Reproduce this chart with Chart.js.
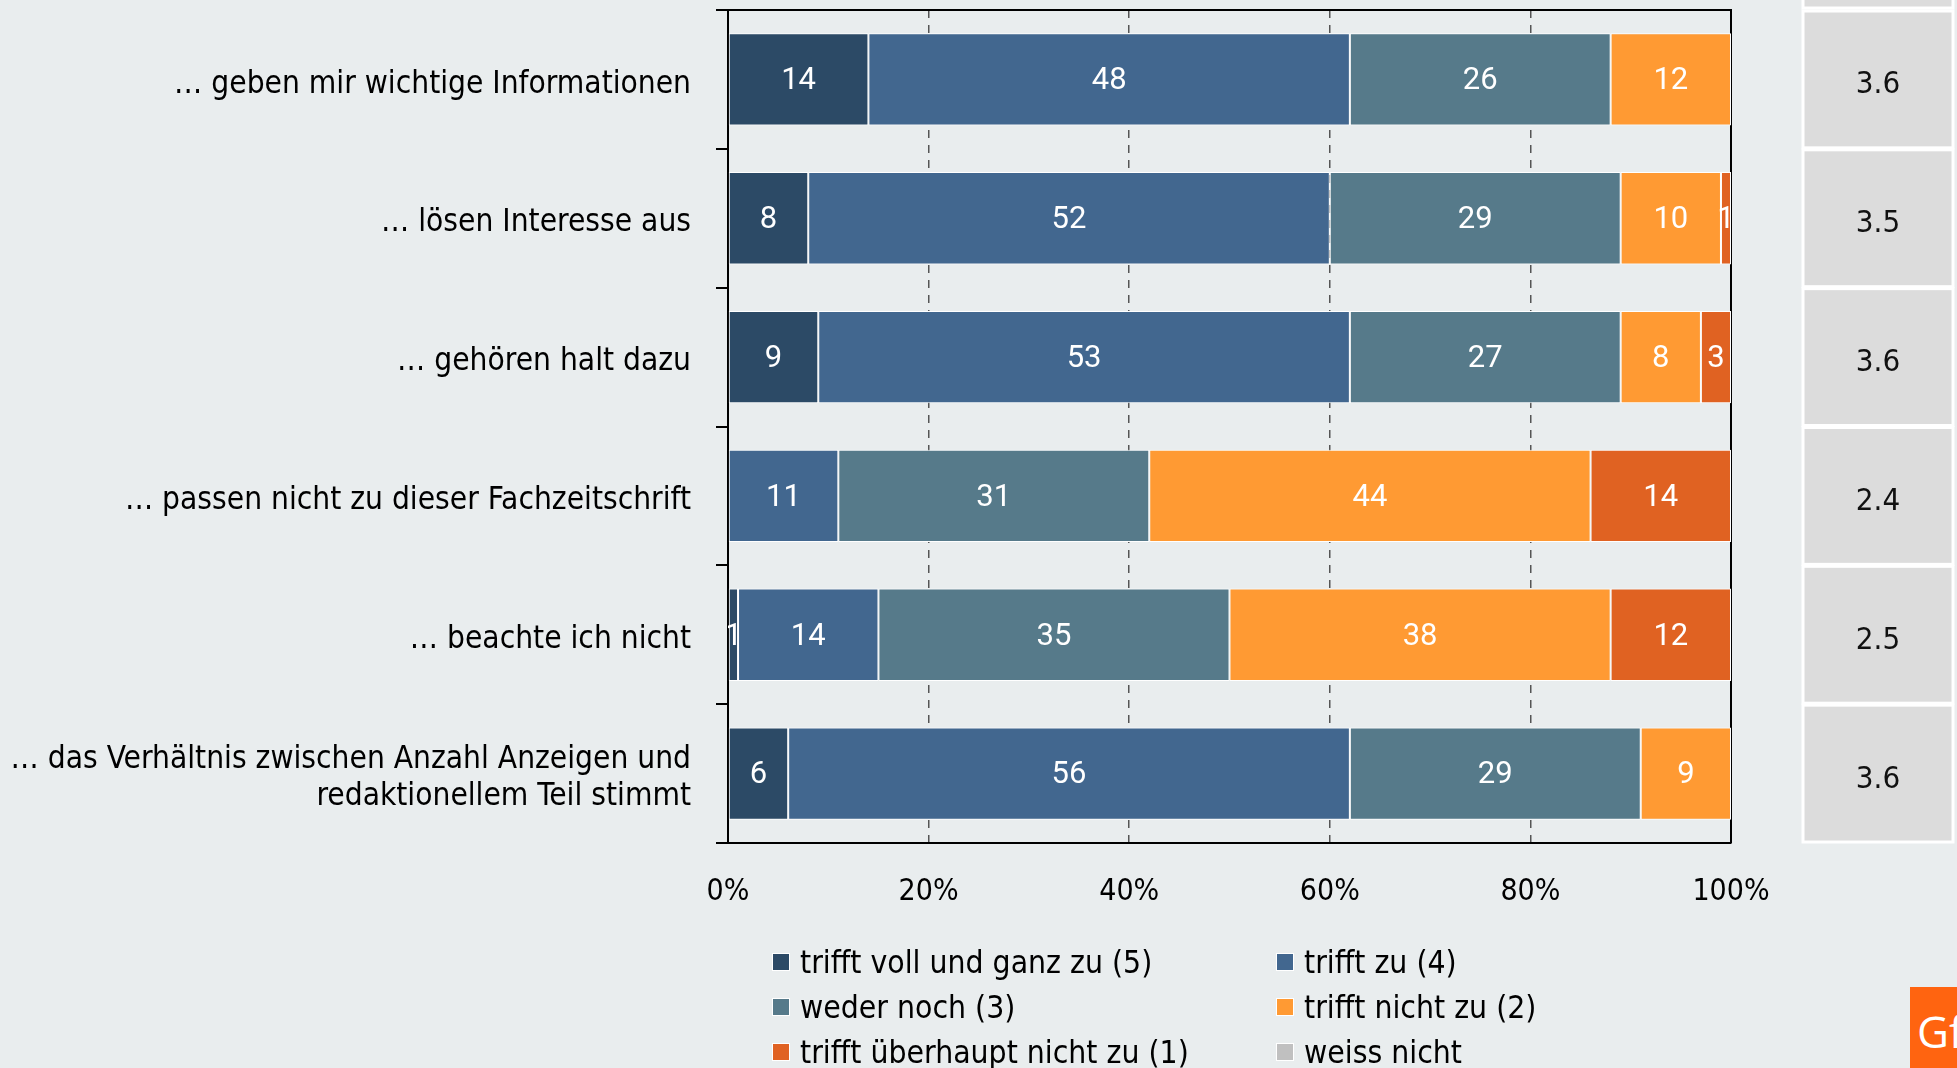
<!DOCTYPE html>
<html lang="de">
<head>
<meta charset="utf-8">
<title>Anzeigen in der Fachzeitschrift</title>
<script src="https://cdn.jsdelivr.net/npm/chart.js@4.4.1/dist/chart.umd.min.js"></script>
<style>
  html, body { margin: 0; padding: 0; background: #e9edee; }
  #wrap { position: relative; width: 1957px; height: 1068px; overflow: hidden; }
  #chart { position: absolute; left: 0; top: 0; }
  #legend {
    position: absolute; left: 772px; top: 939px;
    display: grid; grid-template-columns: 504px 320px; grid-auto-rows: 45px;
    font-family: "DejaVu Sans Condensed", "Liberation Sans", sans-serif; font-size: 31.6px; color: #000;
  }
  .item { display: flex; align-items: center; white-space: nowrap; }
  .box { width: 16px; height: 16px; border: 1px solid #fff; margin-right: 10px; }
  #logo {
    position: absolute; left: 1910px; top: 987px; width: 47px; height: 81px;
    background: #ff6410; color: #fff; overflow: hidden; white-space: nowrap;
    font-family: "Open Sans", sans-serif; font-size: 44px; line-height: 88px; padding-left: 7px;
    box-sizing: border-box;
  }
</style>
</head>
<body>
<div id="wrap">
  <canvas id="chart" width="1957" height="1068"></canvas>
  <div id="legend"></div>
  <div id="logo">GfK</div>
</div>
<script>
const categories = [
  "… geben mir wichtige Informationen",
  "… lösen Interesse aus",
  "… gehören halt dazu",
  "… passen nicht zu dieser Fachzeitschrift",
  "… beachte ich nicht",
  ["… das Verhältnis zwischen Anzahl Anzeigen und", "redaktionellem Teil stimmt"]
];
const seriesNames = [
  "trifft voll und ganz zu (5)",
  "trifft zu (4)",
  "weder noch (3)",
  "trifft nicht zu (2)",
  "trifft überhaupt nicht zu (1)",
  "weiss nicht"
];
const seriesColors = ["#2c4a66", "#42678f", "#567a8a", "#ff9a33", "#e06222", "#c0c0c0"];

const trifftVoll      = [14, 8, 9, 0, 1, 6];
const trifftZu        = [48, 52, 53, 11, 14, 56];
const wederNoch       = [26, 29, 27, 31, 35, 29];
const trifftNicht     = [12, 10, 8, 44, 38, 9];
const ueberhauptNicht = [0, 1, 3, 14, 12, 0];
const weissNicht      = [0, 0, 0, 0, 0, 0];

const means = ["3.6", "3.5", "3.6", "2.4", "2.5", "3.6"];
const xTickValues = [0, 20, 40, 60, 80, 100];

const seriesValues = [trifftVoll, trifftZu, wederNoch, trifftNicht, ueberhauptNicht, weissNicht];

const labelFont = "'DejaVu Sans Condensed', 'Liberation Sans', sans-serif";

// legend (html, two columns)
const legendBox = document.getElementById("legend");
seriesNames.forEach((name, i) => {
  const item = document.createElement("div");
  item.className = "item";
  const sw = document.createElement("span");
  sw.className = "box";
  sw.style.background = seriesColors[i];
  item.appendChild(sw);
  item.appendChild(document.createTextNode(name));
  legendBox.appendChild(item);
});

// top and right frame lines
const framePlugin = {
  id: "frame",
  beforeDatasetsDraw(chart) {
    const { ctx, chartArea: a } = chart;
    ctx.save();
    ctx.strokeStyle = "#000";
    ctx.lineWidth = 2;
    ctx.beginPath();
    ctx.moveTo(a.left - 1, a.top);
    ctx.lineTo(a.right, a.top);
    ctx.lineTo(a.right, a.bottom);
    ctx.stroke();
    ctx.restore();
  }
};

// numbers inside the bars
const barLabels = {
  id: "barLabels",
  afterDatasetsDraw(chart) {
    const { ctx, chartArea: a } = chart;
    ctx.save();
    ctx.beginPath();
    ctx.rect(a.left, a.top, a.right - a.left, a.bottom - a.top);
    ctx.clip();
    ctx.fillStyle = "#fff";
    ctx.font = "31px Roboto";
    ctx.textAlign = "center";
    ctx.textBaseline = "middle";
    chart.data.datasets.forEach((ds, di) => {
      const meta = chart.getDatasetMeta(di);
      meta.data.forEach((bar, i) => {
        const v = ds.data[i];
        if (!v) return;
        ctx.fillText(String(v), (bar.x + bar.base) / 2, bar.y + 2);
      });
    });
    ctx.restore();
  }
};

// mean value boxes on the right
const meanBoxes = {
  id: "meanBoxes",
  afterDraw(chart) {
    const { ctx, chartArea: a } = chart;
    const y = chart.scales.y;
    const band = (a.bottom - a.top) / categories.length;
    const x1 = a.right + 72, x2 = a.right + 222;
    ctx.save();
    ctx.fillStyle = "#dcdcdc";
    ctx.strokeStyle = "#fff";
    ctx.lineWidth = 3;
    // sliver above first row
    ctx.fillRect(x1, -10, x2 - x1, a.top + 8);
    ctx.strokeRect(x1, -10, x2 - x1, a.top + 8);
    means.forEach((m, i) => {
      const c = y.getPixelForValue(i);
      const top = c - band / 2, h = band;
      ctx.fillStyle = "#dcdcdc";
      ctx.fillRect(x1, top + 1, x2 - x1, h - 2);
      ctx.strokeRect(x1, top + 1, x2 - x1, h - 2);
      ctx.fillStyle = "#111";
      ctx.font = "31px " + labelFont;
      ctx.textAlign = "center";
      ctx.textBaseline = "middle";
      ctx.fillText(m, (x1 + x2) / 2, c + 6);
    });
    ctx.restore();
  }
};

new Chart(document.getElementById("chart"), {
  type: "bar",
  data: {
    labels: categories,
    datasets: seriesNames.map((name, i) => ({
      label: name,
      data: seriesValues[i],
      backgroundColor: seriesColors[i],
      borderColor: "#fff",
      borderWidth: i === 5 ? 0 : 1,
      borderSkipped: false,
      barPercentage: 0.665,
      categoryPercentage: 1
    }))
  },
  options: {
    indexAxis: "y",
    responsive: false,
    animation: false,
    layout: { padding: { top: 10, right: 226, bottom: 0, left: 0 } },
    plugins: {
      legend: { display: false },
      tooltip: { enabled: false }
    },
    scales: {
      x: {
        stacked: true,
        min: 0,
        max: 100,
        afterBuildTicks: (scale) => { scale.ticks = xTickValues.map(v => ({ value: v })); },
        afterFit: (scale) => { scale.height = 225; scale.paddingLeft = 0; scale.paddingRight = 0; },
        ticks: {
          padding: 31,
          color: "#000",
          font: { family: labelFont, size: 30 },
          callback: (v) => v + "%"
        },
        grid: {
          drawTicks: false,
          color: (ctx) => (ctx.tick && (ctx.tick.value === 0 || ctx.tick.value === 100)) ? "rgba(0,0,0,0)" : "#555",
          lineWidth: 1.5
        },
        border: { display: true, color: "#000", width: 2, dash: [8, 7] }
      },
      y: {
        stacked: true,
        afterFit: (scale) => { scale.width = 728; scale.paddingTop = 0; scale.paddingBottom = 0; },
        ticks: {
          padding: 25,
          labelOffset: 5,
          color: "#000",
          font: { family: labelFont, size: 31.4, lineHeight: 1.17 }
        },
        grid: {
          offset: true,
          drawOnChartArea: false,
          drawTicks: true,
          tickLength: 12,
          color: "#000",
          lineWidth: 2
        },
        border: { display: true, color: "#000", width: 2 }
      }
    }
  },
  plugins: [framePlugin, barLabels, meanBoxes]
});
</script>
</body>
</html>
